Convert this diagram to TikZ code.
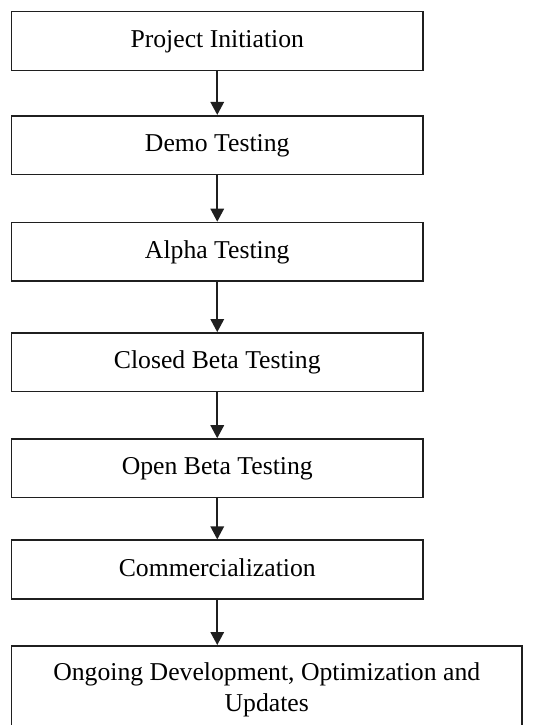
\documentclass[tikz,border=0pt]{standalone}
\usepackage{fontspec}
\setmainfont{Liberation Serif}
\usetikzlibrary{arrows.meta}
\begin{document}
\begin{tikzpicture}[x=1pt,y=-1pt,
  stepbox/.style={draw=black!88, line width=1.6pt, minimum width=411.5pt, minimum height=58.6pt,
    inner sep=0pt, font=\fontsize{25.7}{31}\selectfont, text height=18pt, text depth=5pt},
  flow/.style={draw=black!88, line width=1.6pt, -{Triangle[width=13.5pt,length=13pt]}}]
\useasboundingbox (0,0) rectangle (557,725);
\begin{scope}
\clip (0,0) rectangle (557,725);
\node[stepbox] (n1) at (217.25,41) {Project Initiation};
\node[stepbox] (n2) at (217.25,145) {Demo Testing};
\node[stepbox] (n3) at (217.25,251.8) {Alpha Testing};
\node[stepbox] (n4) at (217.25,362.2) {Closed Beta Testing};
\node[stepbox] (n5) at (217.25,468.3) {Open Beta Testing};
\node[stepbox] (n6) at (217.25,569.5) {Commercialization};
\node[draw=black!88, line width=1.6pt, minimum width=510.5pt, minimum height=150pt, inner sep=0pt, anchor=north] (n7) at (266.75,645) {};
\node[font=\fontsize{25.7}{31}\selectfont, align=center, inner sep=0pt] (t7) at (266.75,690) {Ongoing Development, Optimization and\\Updates};
\draw[flow] (n1) -- (n2);
\draw[flow] (n2) -- (n3);
\draw[flow] (n3) -- (n4);
\draw[flow] (n4) -- (n5);
\draw[flow] (n5) -- (n6);
\draw[flow] (n6.south) -- (n6.south |- n7.north);
\end{scope}
\end{tikzpicture}
\end{document}
